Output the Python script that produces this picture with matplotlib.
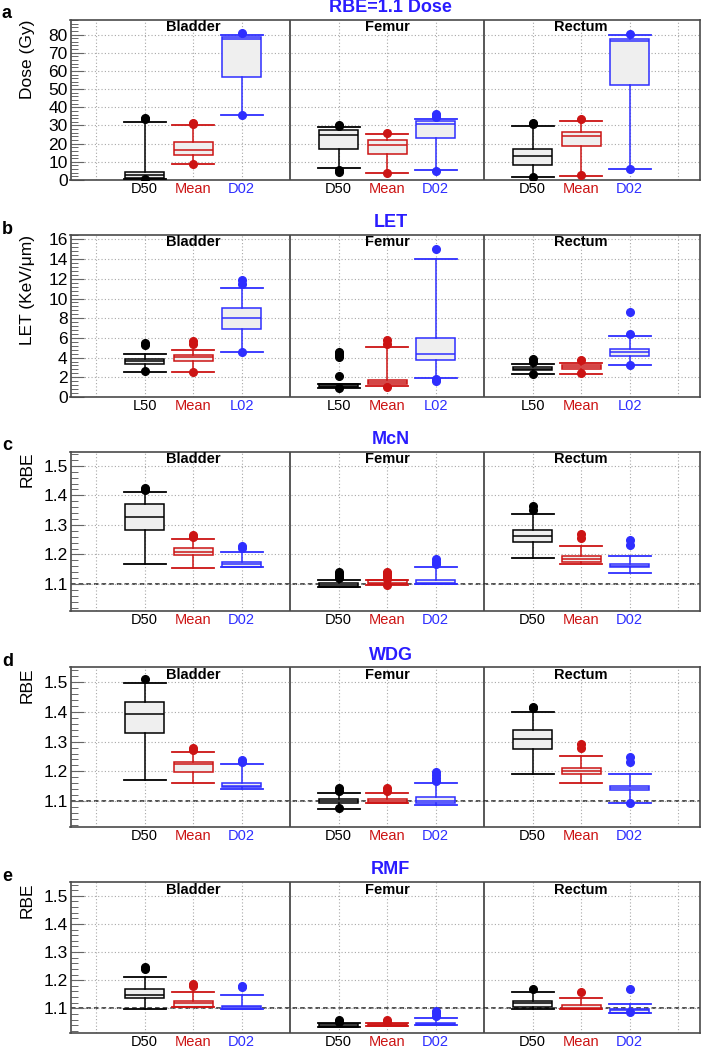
import matplotlib
matplotlib.use("Agg")
import matplotlib.pyplot as plt
from matplotlib.ticker import MultipleLocator, AutoMinorLocator

plt.rcParams['font.family'] = ['Liberation Sans', 'DejaVu Sans']

# ---------------- data ----------------
ORGANS = ["Bladder", "Femur", "Rectum"]
ORGAN_CENTERS = [1, 5, 9]
POSITIONS = [0, 1, 2, 4, 5, 6, 8, 9, 10]
DOSE_LABELS = ["D50", "Mean", "D02"] * 3
LET_LABELS = ["L50", "Mean", "L02"] * 3

PANEL_LETTERS = ["a", "b", "c", "d", "e"]
PANEL_TITLES = ["RBE=1.1 Dose", "LET", "McN", "WDG", "RMF"]
PANEL_YLABELS = ["Dose (Gy)", "LET (KeV/\u03bcm)", "RBE", "RBE", "RBE"]

# Panel a: RBE=1.1 dose (Gy)
DOSE_Q1 = [1.0, 13.7, 56.6, 17.3, 14.2, 22.9, 8.5, 18.9, 52.4]
DOSE_MED = [2.7, 16.5, 77.5, 24.9, 19.1, 30.9, 13.1, 24.0, 76.7]
DOSE_Q3 = [4.5, 20.7, 78.6, 27.3, 21.8, 32.2, 17.3, 26.5, 77.6]
DOSE_WLO = [0.8, 8.8, 35.7, 6.7, 3.6, 5.5, 1.5, 2.4, 5.8]
DOSE_WHI = [31.9, 30.2, 79.6, 28.9, 25.5, 33.8, 29.8, 32.7, 79.5]
DOSE_FLIERS = [[34.0, 33.5, 0.4], [31.5, 30.8, 8.8], [80.6, 35.7],
               [29.5, 30.3, 5.5, 4.2], [25.8, 3.6], [36.2, 35.5, 34.5, 5.1],
               [30.9, 31.5, 1.5], [33.6, 2.7], [80.1, 5.8]]

# Panel b: LET (keV/um)
LET_Q1 = [3.39, 3.66, 6.95, 1.05, 1.29, 3.80, 2.71, 2.88, 4.20]
LET_MED = [3.63, 4.07, 8.07, 1.15, 1.49, 4.40, 2.88, 3.05, 4.54]
LET_Q3 = [3.83, 4.24, 9.08, 1.30, 1.69, 6.03, 3.05, 3.22, 4.92]
LET_WLO = [2.54, 2.54, 4.58, 0.95, 1.12, 1.97, 2.30, 2.30, 3.29]
LET_WHI = [4.34, 4.81, 11.10, 1.35, 5.08, 14.03, 3.39, 3.49, 6.17]
LET_FLIERS = [[5.49, 5.25, 2.64], [5.69, 5.36, 2.54], [11.86, 11.5, 4.58],
              [2.1, 4.05, 4.25, 4.45, 4.6, 0.9], [5.76, 5.42, 1.02], [15.05, 1.8, 1.6],
              [3.83, 3.56, 2.3], [3.8, 2.47], [8.6, 6.44, 3.29]]

# Panel c: McN RBE
MCN_Q1 = [1.282, 1.197, 1.156, 1.091, 1.100, 1.101, 1.241, 1.176, 1.156]
MCN_MED = [1.326, 1.208, 1.166, 1.097, 1.104, 1.103, 1.263, 1.186, 1.161]
MCN_Q3 = [1.370, 1.222, 1.176, 1.103, 1.112, 1.114, 1.282, 1.196, 1.167]
MCN_WLO = [1.167, 1.155, 1.156, 1.091, 1.097, 1.101, 1.187, 1.167, 1.136]
MCN_WHI = [1.412, 1.251, 1.207, 1.112, 1.113, 1.156, 1.336, 1.230, 1.196]
MCN_FLIERS = [[1.424, 1.419], [1.266, 1.260], [1.227, 1.221],
              [1.142, 1.135, 1.128, 1.120], [1.142, 1.136, 1.130, 1.124, 1.118, 1.096],
              [1.184, 1.176, 1.168], [1.364, 1.351], [1.268, 1.255], [1.249, 1.232]]

# Panel d: WDG RBE
WDG_Q1 = [1.328, 1.199, 1.148, 1.094, 1.094, 1.092, 1.274, 1.190, 1.137]
WDG_MED = [1.392, 1.225, 1.152, 1.101, 1.100, 1.101, 1.309, 1.202, 1.143]
WDG_Q3 = [1.433, 1.233, 1.160, 1.107, 1.106, 1.115, 1.339, 1.210, 1.151]
WDG_WLO = [1.170, 1.160, 1.139, 1.073, 1.094, 1.085, 1.190, 1.160, 1.094]
WDG_WHI = [1.498, 1.264, 1.224, 1.126, 1.126, 1.160, 1.401, 1.253, 1.190]
WDG_FLIERS = [[1.510], [1.280, 1.272], [1.238, 1.233],
              [1.143, 1.135, 1.075], [1.143, 1.135], [1.199, 1.188, 1.176, 1.167],
              [1.416, 1.412], [1.292, 1.278], [1.249, 1.233, 1.094]]

# Panel e: RMF RBE
RMF_Q1 = [1.135, 1.106, 1.096, 1.033, 1.037, 1.040, 1.106, 1.096, 1.085]
RMF_MED = [1.148, 1.118, 1.104, 1.037, 1.041, 1.043, 1.118, 1.102, 1.093]
RMF_Q3 = [1.170, 1.126, 1.108, 1.043, 1.043, 1.049, 1.126, 1.111, 1.099]
RMF_WLO = [1.099, 1.106, 1.096, 1.033, 1.037, 1.040, 1.096, 1.096, 1.085]
RMF_WHI = [1.212, 1.158, 1.147, 1.046, 1.046, 1.066, 1.158, 1.137, 1.115]
RMF_FLIERS = [[1.247, 1.240], [1.185, 1.179], [1.181, 1.177],
              [1.059, 1.052], [1.059, 1.052], [1.091, 1.082, 1.073],
              [1.170], [1.158], [1.168, 1.087]]

# ---------------- style ----------------
COLORS = ["#000000", "#cc1414", "#2e2eff"] * 3
TITLE_COLOR = "#2a1cff"
BOX_FILL = "#efefef"
FRAME = "#4a4a4a"

W, H = 702, 1047
# (top, bottom) pixel rows of each panel frame
PANEL_PIX = [(19.5, 180.0), (235.0, 397.0), (451.7, 611.3), (667.3, 827.3), (882.3, 1032.5)]
X_LEFT, X_RIGHT = 70.5, 700.0
YLIMS = [(0, 88.3), (0, 16.45), (1.0075, 1.548), (1.0115, 1.5505), (1.014, 1.548)]
YMAJOR = [10, 2, 0.1, 0.1, 0.1]

panels = [
    (DOSE_Q1, DOSE_MED, DOSE_Q3, DOSE_WLO, DOSE_WHI, DOSE_FLIERS, DOSE_LABELS),
    (LET_Q1, LET_MED, LET_Q3, LET_WLO, LET_WHI, LET_FLIERS, LET_LABELS),
    (MCN_Q1, MCN_MED, MCN_Q3, MCN_WLO, MCN_WHI, MCN_FLIERS, DOSE_LABELS),
    (WDG_Q1, WDG_MED, WDG_Q3, WDG_WLO, WDG_WHI, WDG_FLIERS, DOSE_LABELS),
    (RMF_Q1, RMF_MED, RMF_Q3, RMF_WLO, RMF_WHI, RMF_FLIERS, DOSE_LABELS),
]

fig = plt.figure(figsize=(W / 100, H / 100), dpi=100)

for i, (q1s, meds, q3s, wlos, whis, fls, xlabels) in enumerate(panels):
    top, bot = PANEL_PIX[i]
    ax = fig.add_axes([X_LEFT / W, 1 - bot / H, (X_RIGHT - X_LEFT) / W, (bot - top) / H])

    ax.set_xlim(-1.53, 11.45)
    ax.set_ylim(*YLIMS[i])

    # grid
    ax.yaxis.set_major_locator(MultipleLocator(YMAJOR[i]))
    ax.yaxis.set_minor_locator(AutoMinorLocator(5))
    ax.yaxis.grid(True, which='major', linestyle=(0, (1, 2)), color='#a8a8a8', lw=0.8, zorder=0)
    for gx in [-1, 0, 1, 2, 4, 5, 6, 8, 9, 10, 11]:
        ax.axvline(gx, linestyle=(0, (1, 2)), color='#a8a8a8', lw=0.8, zorder=0)
    for sx in [3, 7]:
        ax.axvline(sx, color=FRAME, lw=1.3, zorder=1)

    if i >= 2:
        ax.axhline(1.1, color='#222222', lw=1.1, linestyle=(0, (3, 2)), zorder=1)

    for k in range(9):
        c = COLORS[k]
        stat = dict(med=meds[k], q1=q1s[k], q3=q3s[k], whislo=wlos[k], whishi=whis[k],
                    fliers=fls[k])
        ax.bxp([stat], positions=[POSITIONS[k]], widths=0.8, capwidths=0.86,
               patch_artist=True, showfliers=True,
               boxprops=dict(facecolor=BOX_FILL, edgecolor=c, lw=1.1),
               medianprops=dict(color=c, lw=1.1),
               whiskerprops=dict(color=c, lw=1.1),
               capprops=dict(color=c, lw=1.3),
               flierprops=dict(marker='o', markerfacecolor=c, markeredgecolor=c,
                               markersize=5.5, linestyle='none'),
               manage_ticks=False, zorder=3)

    ax.set_xticks(POSITIONS)
    ax.set_xticklabels(xlabels, fontsize=10.5)
    for lbl, c in zip(ax.get_xticklabels(), COLORS):
        lbl.set_color(c)
    ax.tick_params(axis='x', length=0, pad=1.5)
    ax.tick_params(axis='y', which='major', direction='in', length=9, width=0.8,
                   color='#666666', labelsize=12.5, pad=2)
    ax.tick_params(axis='y', which='minor', direction='in', length=5, width=0.7,
                   color='#666666')
    if i >= 2:
        ax.set_yticks([1.1, 1.2, 1.3, 1.4, 1.5])
        ax.set_yticklabels(["1.1", "1.2", "1.3", "1.4", "1.5"])

    for s in ax.spines.values():
        s.set_color(FRAME)
        s.set_linewidth(1.2)

    ax.set_ylabel(PANEL_YLABELS[i], fontsize=12.5, loc='top')
    ax.yaxis.set_label_coords(-0.0564, 1.0)

    for org, cx in zip(ORGANS, ORGAN_CENTERS):
        ax.annotate(org, xy=(cx, 1.0), xycoords=('data', 'axes fraction'),
                    xytext=(0, -7.5), textcoords='offset pixels',
                    ha='center', va='center', fontsize=10.5, fontweight='bold', zorder=5)

    # title and panel letter
    ty = max(top - 12.3, 8.0)
    fig.text(0.5 * (X_LEFT + X_RIGHT) / W + 0.008, 1 - ty / H, PANEL_TITLES[i],
             ha='center', va='center', fontsize=13, fontweight='bold', color=TITLE_COLOR)
    fig.text(2 / W, 1 - (top - 5.8) / H, PANEL_LETTERS[i], ha='left', va='center',
             fontsize=13, fontweight='bold')

fig.savefig("out.png", dpi=100)
